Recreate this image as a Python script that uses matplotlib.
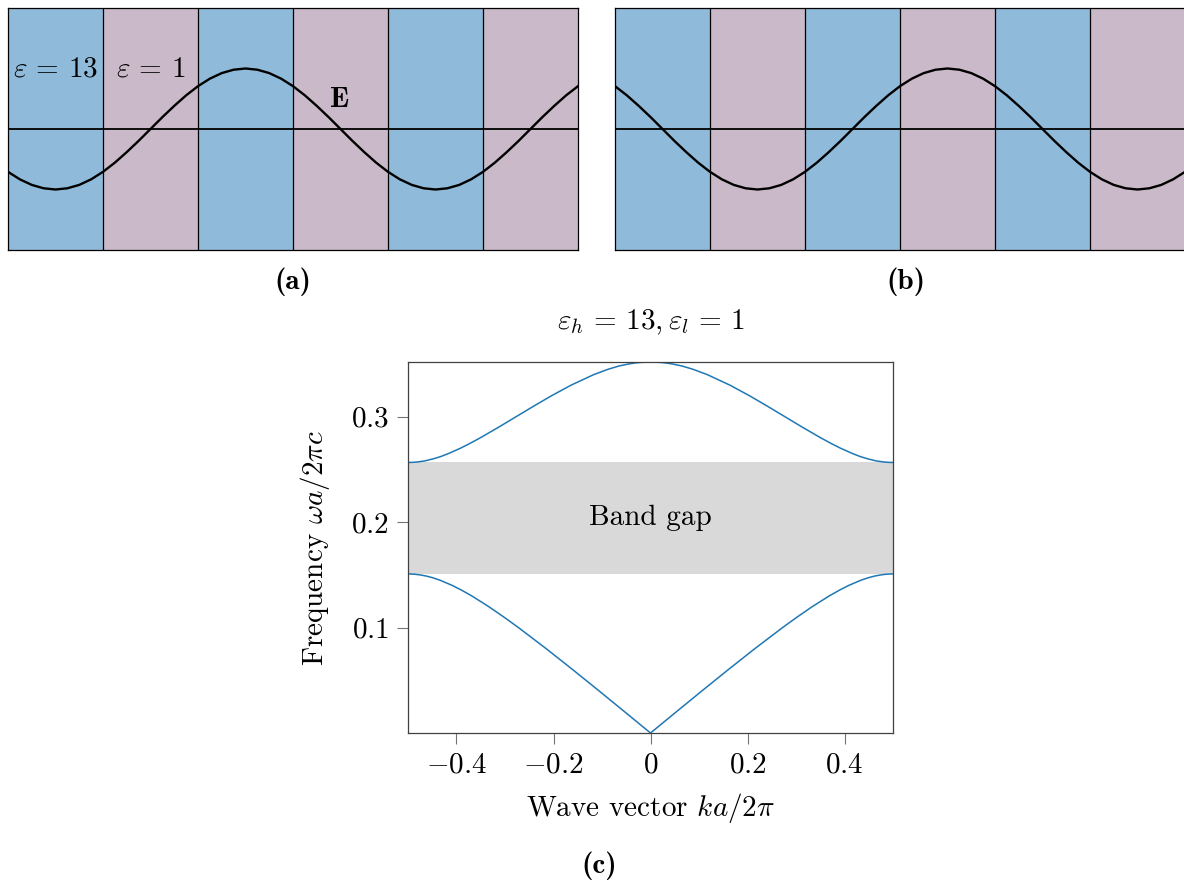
import numpy as np
import matplotlib.pyplot as plt

plt.rcParams['font.family'] = 'serif'
plt.rcParams['font.serif'] = ['cmr10']
plt.rcParams['mathtext.fontset'] = 'cm'
plt.rcParams['axes.formatter.use_mathtext'] = True
plt.rcParams['font.size'] = 21

# --- data -------------------------------------------------------------
# permittivity of each layer in the two field sketches
layers_eps = [13, 1, 13, 1, 13, 1]
layer_colors = {13: '#8FBAD9', 1: '#CAB9C8'}

# field samples every 1/8 layer
field_x = np.linspace(0, 6, 49)
field_a = [-0.354, -0.416, -0.462, -0.490, -0.500, -0.490, -0.462, -0.416,
           -0.354, -0.278, -0.191, -0.098, 0.000, 0.098, 0.191, 0.278,
           0.354, 0.416, 0.462, 0.490, 0.500, 0.490, 0.462, 0.416, 0.354,
           0.278, 0.191, 0.098, 0.000, -0.098, -0.191, -0.278, -0.354,
           -0.416, -0.462, -0.490, -0.500, -0.490, -0.462, -0.416, -0.354,
           -0.278, -0.191, -0.098, 0.000, 0.098, 0.191, 0.278, 0.354]
field_b = [0.354, 0.278, 0.191, 0.098, 0.000, -0.098, -0.191, -0.278,
           -0.354, -0.416, -0.462, -0.490, -0.500, -0.490, -0.462, -0.416,
           -0.354, -0.278, -0.191, -0.098, 0.000, 0.098, 0.191, 0.278,
           0.354, 0.416, 0.462, 0.490, 0.500, 0.490, 0.462, 0.416, 0.354,
           0.278, 0.191, 0.098, 0.000, -0.098, -0.191, -0.278, -0.354,
           -0.416, -0.462, -0.490, -0.500, -0.490, -0.462, -0.416, -0.354]

# band structure, eps_h = 13, eps_l = 1
k_lower = [-0.5, -0.4938, -0.4843, -0.4755, -0.4625, -0.45, -0.4344,
           -0.4088, -0.39, -0.3684, -0.3340, -0.3024, -0.2723, -0.2151,
           -0.1601, -0.1062, -0.0530, 0.0,
           0.0530, 0.1062, 0.1601, 0.2151, 0.2723, 0.3024, 0.3340, 0.3684,
           0.39, 0.4088, 0.4344, 0.45, 0.4625, 0.4755, 0.4843, 0.4938, 0.5]
f_lower = [0.1509, 0.1508, 0.1505, 0.1500, 0.1489, 0.1474, 0.1450,
           0.1400, 0.1356, 0.1300, 0.1200, 0.1100, 0.1000, 0.0800,
           0.0600, 0.0400, 0.0200, 0.0,
           0.0200, 0.0400, 0.0600, 0.0800, 0.1000, 0.1100, 0.1200, 0.1300,
           0.1356, 0.1400, 0.1450, 0.1474, 0.1489, 0.1500, 0.1505, 0.1508,
           0.1509]
k_upper = [-0.5, -0.4910, -0.4819, -0.4650, -0.4483, -0.4325, -0.4169,
           -0.3924, -0.3750, -0.3509, -0.3134, -0.2772, -0.2410, -0.2037,
           -0.1635, -0.1167, -0.0875, -0.0650, -0.0455, -0.0315, -0.0214,
           0.0,
           0.0214, 0.0315, 0.0455, 0.0650, 0.0875, 0.1167, 0.1635, 0.2037,
           0.2410, 0.2772, 0.3134, 0.3509, 0.3750, 0.3924, 0.4169, 0.4325,
           0.4483, 0.4650, 0.4819, 0.4910, 0.5]
f_upper = [0.2566, 0.2567, 0.2570, 0.2581, 0.2600, 0.2622, 0.2650,
           0.2700, 0.2740, 0.2800, 0.2900, 0.3000, 0.3100, 0.3200,
           0.3300, 0.3400, 0.3450, 0.3481, 0.3500, 0.3510, 0.3515,
           0.3519,
           0.3515, 0.3510, 0.3500, 0.3481, 0.3450, 0.3400, 0.3300, 0.3200,
           0.3100, 0.3000, 0.2900, 0.2800, 0.2740, 0.2700, 0.2650, 0.2622,
           0.2600, 0.2581, 0.2570, 0.2567, 0.2566]

xticks = [-0.4, -0.2, 0, 0.2, 0.4]
xtick_labels = ['$-0.4$', '$-0.2$', '$0$', '$0.2$', '$0.4$']
yticks = [0.1, 0.2, 0.3]
ytick_labels = ['$0.1$', '$0.2$', '$0.3$']

# --- figure -----------------------------------------------------------
W, H = 1184, 883
fig = plt.figure(figsize=(W / 100, H / 100), dpi=100)


def px_axes(l, t, r, b):
    return fig.add_axes([l / W, 1 - b / H, (r - l) / W, (b - t) / H])


def draw_layers(ax, field):
    for i, eps in enumerate(layers_eps):
        ax.axvspan(i, i + 1, color=layer_colors[eps], lw=0, zorder=0)
    for i in range(1, len(layers_eps)):
        ax.axvline(i, color='k', lw=0.9, zorder=1)
    ax.axhline(0, color='k', lw=1.3, zorder=2)
    ax.plot(field_x, field, color='k', lw=1.7, zorder=3,
            solid_joinstyle='round')
    ax.set_xlim(0, len(layers_eps))
    ax.set_ylim(-1, 1)
    ax.set_xticks([])
    ax.set_yticks([])
    for s in ax.spines.values():
        s.set_linewidth(0.9)
        s.set_color('k')


ax_a = px_axes(8, 8, 578, 250)
draw_layers(ax_a, field_a)
ax_a.text(0.5, 0.49, r'$\varepsilon\,=\,13$', ha='center', va='center')
ax_a.text(1.5, 0.49, r'$\varepsilon\,=\,1$', ha='center', va='center')
ax_a.text(3.49, 0.24, r'$\mathbf{E}$', ha='center', va='center')

ax_b = px_axes(615, 8, 1185, 250)
draw_layers(ax_b, field_b)

fig.text(293 / W, 1 - 282 / H, '(a)', family='cmb10',
         ha='center', va='center')
fig.text(906 / W, 1 - 282 / H, '(b)', family='cmb10',
         ha='center', va='center')

# band diagram
ax_c = px_axes(408, 362, 893, 733)
gap_lo, gap_hi = max(f_lower), min(f_upper)
ax_c.axhspan(gap_lo, gap_hi, color='#D9D9D9', lw=0, zorder=0)
ax_c.plot(k_lower, f_lower, color='#1f77b4', lw=1.1)
ax_c.plot(k_upper, f_upper, color='#1f77b4', lw=1.1)
ax_c.text(0, (gap_lo + gap_hi) / 2, 'Band gap', ha='center', va='center')
ax_c.set_xlim(-0.5, 0.5)
ax_c.set_ylim(min(f_lower), max(f_upper))
ax_c.set_xticks(xticks)
ax_c.set_xticklabels(xtick_labels)
ax_c.set_yticks(yticks)
ax_c.set_yticklabels(ytick_labels)
ax_c.tick_params(direction='out', length=8, width=0.8, color='0.45',
                 pad=6, labelsize=21)
for s in ax_c.spines.values():
    s.set_linewidth(0.9)
    s.set_color('0.25')

fig.text(651 / W, 1 - 322 / H, r'$\varepsilon_h\,=\,13, \varepsilon_l\,=\,1$',
         ha='center', va='center')
fig.text(651 / W, 1 - 808 / H, r'Wave vector $ka/2\pi$',
         ha='center', va='center')
fig.text(315 / W, 1 - 548 / H, r'Frequency $\omega a/2\pi c$',
         ha='center', va='center', rotation=90)
fig.text(599 / W, 1 - 866 / H, '(c)', family='cmb10',
         ha='center', va='center')

fig.savefig('out.png', dpi=100)
